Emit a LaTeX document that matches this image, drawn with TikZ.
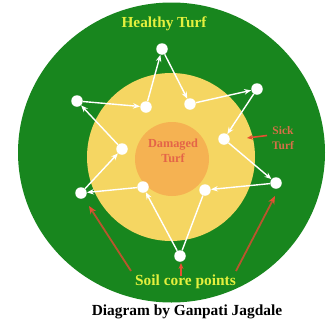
\documentclass[tikz,border=0pt]{standalone}
\usepackage{fontspec}
\setmainfont{Liberation Serif}
\usetikzlibrary{arrows.meta}
\definecolor{turfgreen}{RGB}{24,134,30}
\definecolor{sickyellow}{RGB}{245,214,98}
\definecolor{damorange}{RGB}{245,178,82}
\definecolor{labyellow}{RGB}{228,240,62}
\definecolor{damtext}{RGB}{228,100,72}
\definecolor{sicktext}{RGB}{214,112,72}
\definecolor{redarrow}{RGB}{185,85,45}
\definecolor{redhead}{RGB}{230,80,50}
\begin{document}
\begin{tikzpicture}[x=1pt,y=-1pt,
  pt/.style={circle,fill=white,draw=none,minimum size=11.5pt,inner sep=0pt},
  wl/.style={draw=white,line width=1.4pt},
  wa/.style={wl,-{Stealth[length=7pt,width=5.5pt]}},
  ra/.style={draw=redarrow,line width=1.8pt,-{Stealth[length=8pt,width=6.5pt,color=redhead]}},
  sa/.style={draw=redhead,line width=1.6pt,-{Stealth[length=6pt,width=5pt]}},
  lab/.style={font=\bfseries,inner sep=0pt}]
\useasboundingbox (0,0) rectangle (327,327);
\fill[white] (0,0) rectangle (327,327);
\fill[turfgreen] (171.5,152.5) ellipse [x radius=153.5, y radius=150];
\fill[sickyellow] (171,157) circle [radius=84];
\fill[damorange] (172,159) circle [radius=37];
% points
\node[pt] (p1) at (162,49) {};
\node[pt] (p2) at (257,89) {};
\node[pt] (p3) at (276,183) {};
\node[pt] (p4) at (180,256) {};
\node[pt] (p5) at (81,193) {};
\node[pt] (p6) at (77,101) {};
\node[pt] (i1) at (146,107) {};
\node[pt] (i2) at (190,104) {};
\node[pt] (i3) at (224,139) {};
\node[pt] (i4) at (205,190) {};
\node[pt] (i5) at (143,187) {};
\node[pt] (i6) at (122,149) {};
% white path
\draw[wa] (i1) -- (p1);
\draw[wa] (p1) -- (i2);
\draw[wa] (i2) -- (p2);
\draw[wa] (p2) -- (i3);
\draw[wa] (i3) -- (p3);
\draw[wa] (p3) -- (i4);
\draw[wl] (i4) -- (p4);
\draw[wa] (p4) -- (i5);
\draw[wa] (i5) -- (p5);
\draw[wa] (p5) -- (i6);
\draw[wa] (i6) -- (p6);
\draw[wa] (p6) -- (i1);
% labels
\node[lab,text=labyellow,font=\bfseries\fontsize{15.3}{17}\selectfont] (healthy) at (164,24) {Healthy Turf};
\node[lab,text=damtext,font=\bfseries\fontsize{12.3}{15}\selectfont,align=center] (damaged) at (173,151) {Damaged\\Turf};
\node[lab,text=sicktext,font=\bfseries\fontsize{11.5}{15}\selectfont,align=center] (sick) at (283,138) {Sick\\Turf};
\node[lab,text=labyellow,font=\bfseries\fontsize{15.4}{17}\selectfont] (soil) at (185.5,282) {Soil core points};
\node[lab,text=black,font=\bfseries\fontsize{15.4}{17}\selectfont] (credit) at (187,312) {Diagram by Ganpati Jagdale};
% red arrows
\coordinate (sa0) at (267,135.5);
\coordinate (sb0) at (247,138);
\draw[sa] (sa0) -- (sb0);
\coordinate (l0) at (131,271);
\coordinate (l1) at (89,206);
\draw[ra] (l0) -- (l1);
\coordinate (r0) at (236,271);
\coordinate (r1) at (275,196);
\draw[ra] (r0) -- (r1);
\coordinate (m0) at (181,276);
\coordinate (m1) at (181,263);
\draw[sa] (m0) -- (m1);
\end{tikzpicture}
\end{document}
